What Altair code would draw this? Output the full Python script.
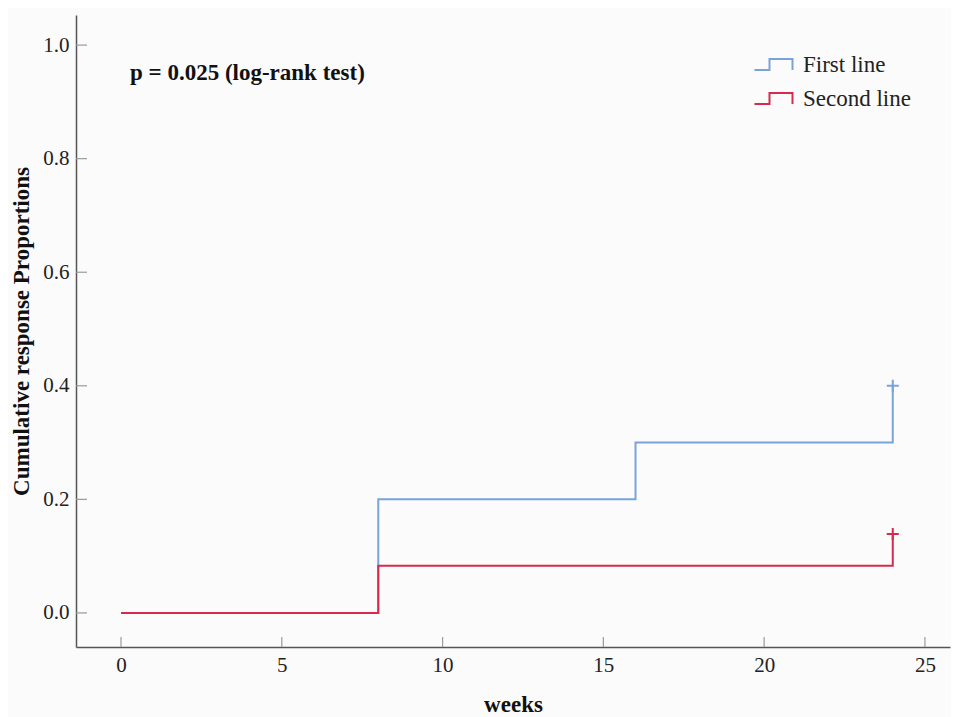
import altair as alt
import pandas as pd

# ---- data ----
series_names = ["First line", "Second line"]
first_x = [0, 8, 8, 16, 16, 24, 24]
first_y = [0.0, 0.0, 0.2, 0.2, 0.3, 0.3, 0.4]
second_x = [0, 8, 8, 24, 24]
second_y = [0.0, 0.0, 0.083, 0.083, 0.139]
censor_x = [24, 24]
censor_y = [0.4, 0.139]
x_ticks = [0, 5, 10, 15, 20, 25]
y_ticks = [0.0, 0.2, 0.4, 0.6, 0.8, 1.0]
colors = ["#7aa3da", "#d62a4e"]
annotation = "p = 0.025 (log-rank test)"

rows = []
for i, (a, b) in enumerate(zip(first_x, first_y)):
    rows.append({"x": a, "y": b, "series": series_names[0], "i": i})
for i, (a, b) in enumerate(zip(second_x, second_y)):
    rows.append({"x": a, "y": b, "series": series_names[1], "i": i})
lines_df = pd.DataFrame(rows)
cens_df = pd.DataFrame({"x": censor_x, "y": censor_y, "series": series_names})
xt_df = pd.DataFrame({"x": x_ticks})
yt_df = pd.DataFrame({"y": y_ticks})

FONT = "Liberation Serif"
xs = alt.Scale(domain=[-1.40, 25.78], nice=False, zero=False)
ys = alt.Scale(domain=[-0.06, 1.053], nice=False, zero=False)
xaxis = alt.Axis(values=x_ticks, title="weeks", format="d")
yaxis = alt.Axis(values=y_ticks, title="Cumulative response Proportions", format=".1f")
cscale = alt.Scale(domain=series_names, range=colors)

xenc = alt.X("x:Q", scale=xs, axis=xaxis)
yenc = alt.Y("y:Q", scale=ys, axis=yaxis)

lines = alt.Chart(lines_df).mark_line(strokeWidth=2, interpolate="linear").encode(
    x=xenc, y=yenc,
    color=alt.Color("series:N", scale=cscale,
                    legend=alt.Legend(title=None)),
    order=alt.Order("i:Q"),
)

cens = alt.Chart(cens_df).mark_point(
    shape="M-1,0 H1 M0,-1 V1", size=144, strokeWidth=2, filled=False, opacity=1
).encode(
    x=xenc, y=yenc,
    color=alt.Color("series:N", scale=cscale, legend=None),
)

xt = alt.Chart(xt_df).mark_rule(color="#9a9a9a", strokeWidth=1.2).encode(
    x=xenc, y=alt.value(632), y2=alt.value(622)
)
yt = alt.Chart(yt_df).mark_rule(color="#9a9a9a", strokeWidth=1.2).encode(
    y=yenc, x=alt.value(0), x2=alt.value(11)
)

txt = alt.Chart(pd.DataFrame({"t": [annotation]})).mark_text(
    align="left", baseline="middle", font=FONT, fontSize=23, fontWeight="bold", color="#111"
).encode(x=alt.value(54), y=alt.value(58), text="t:N")

chart = alt.layer(yt, xt, lines, cens, txt).properties(
    width=874, height=632,
    autosize=alt.AutoSizeParams(type="none"),
    padding={"left": 68, "top": 7, "right": 1, "bottom": 70},
    background="#fbfbfb",
).configure_view(stroke=None).configure_axis(
    domainColor="#555555", domainWidth=1.5, ticks=False, grid=False,
    labelFont=FONT, labelFontSize=21, labelColor="#222",
    titleFont=FONT, titleFontSize=23, titleFontWeight="bold", titleColor="#111",
).configure_axisY(labelPadding=7, titlePadding=9).configure_axisX(
    labelPadding=7, titlePadding=18
).configure_legend(
    orient="none", legendX=686, legendY=38, padding=0,
    symbolType="M-1.9,0.55 H-0.4 V-0.55 H1.9 V0.55", symbolSize=400,
    symbolStrokeWidth=2, symbolFillColor="transparent",
    labelFont=FONT, labelFontSize=23, labelColor="#222", labelOffset=18,
    rowPadding=10,
)

chart.save("out.html", embed_options={"renderer": "svg", "actions": False})
